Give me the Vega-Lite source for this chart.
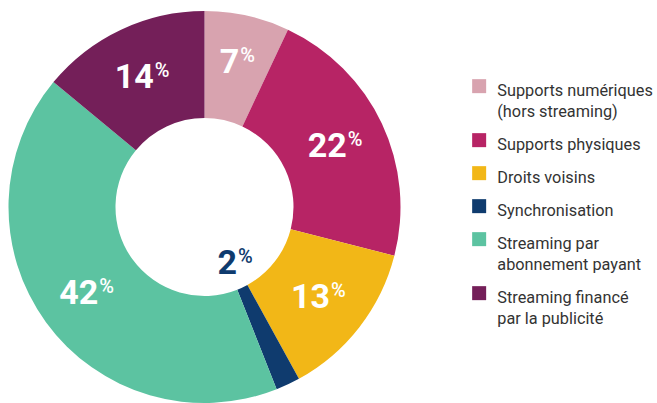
{
  "$schema": "https://vega.github.io/schema/vega-lite/v6.json",
  "width": 409,
  "height": 414,
  "autosize": "none",
  "padding": {"left": 0, "top": 0, "right": 248, "bottom": 0},
  "background": "white",
  "config": {"view": {"stroke": null}, "font": "Roboto"},
  "data": {
    "values": [
      {"categorie": "Supports numériques|(hors streaming)", "valeur": 7, "ordre": 1},
      {"categorie": "Supports physiques", "valeur": 22, "ordre": 2},
      {"categorie": "Droits voisins", "valeur": 13, "ordre": 3},
      {"categorie": "Synchronisation", "valeur": 2, "ordre": 4},
      {"categorie": "Streaming par|abonnement payant", "valeur": 42, "ordre": 5},
      {"categorie": "Streaming financé|par la publicité", "valeur": 14, "ordre": 6}
    ]
  },
  "encoding": {
    "theta": {"field": "valeur", "type": "quantitative", "stack": true},
    "order": {"field": "ordre", "type": "quantitative"}
  },
  "layer": [
    {
      "mark": {"type": "arc", "outerRadius": 196, "innerRadius": 89},
      "encoding": {
        "color": {
          "field": "categorie",
          "type": "nominal",
          "sort": null,
          "scale": {
            "domain": ["Supports numériques|(hors streaming)", "Supports physiques", "Droits voisins", "Synchronisation", "Streaming par|abonnement payant", "Streaming financé|par la publicité"],
            "range": ["#D8A3AF", "#B72465", "#F2B717", "#0F3B6E", "#5CC3A1", "#741F59"]
          },
          "legend": {
            "title": null,
            "orient": "none",
            "legendX": 471,
            "legendY": 78,
            "padding": 0,
            "symbolType": "square",
            "symbolSize": 196,
            "symbolStrokeWidth": 0,
            "labelFont": "Roboto",
            "labelFontSize": 16.3,
            "labelColor": "#333333",
            "labelOffset": 10,
            "labelLimit": 300,
            "labelBaseline": "top",
            "rowPadding": 11,
            "labelExpr": "split(datum.label, '|')",
            "encode": {"labels": {"update": {"lineHeight": {"value": 21}, "dy": {"value": -3}}}}
          }
        }
      }
    },
    {
      "mark": {"type": "text", "radius": 145, "align": "right", "baseline": "alphabetic", "dx": 11, "dy": 12, "fontSize": 34, "fontWeight": "bold", "color": "white"},
      "encoding": {
        "text": {"condition": {"test": "datum.valeur >= 10", "field": "valeur", "type": "nominal"}, "value": ""}
      }
    },
    {
      "mark": {"type": "text", "radius": 145, "align": "left", "baseline": "alphabetic", "dx": 12, "dy": 1, "fontSize": 20, "fontWeight": 500, "color": "white"},
      "encoding": {
        "text": {"condition": {"test": "datum.valeur >= 10", "value": "%"}, "value": ""}
      }
    },
    {
      "mark": {"type": "text", "radius": 150, "align": "right", "baseline": "alphabetic", "dx": 2, "dy": 12, "fontSize": 34, "fontWeight": "bold", "color": "white"},
      "encoding": {
        "text": {"condition": {"test": "datum.valeur >= 5 && datum.valeur < 10", "field": "valeur", "type": "nominal"}, "value": ""}
      }
    },
    {
      "mark": {"type": "text", "radius": 150, "align": "left", "baseline": "alphabetic", "dx": 3, "dy": 1, "fontSize": 20, "fontWeight": 500, "color": "white"},
      "encoding": {
        "text": {"condition": {"test": "datum.valeur >= 5 && datum.valeur < 10", "value": "%"}, "value": ""}
      }
    },
    {
      "mark": {"type": "text", "radius": 62, "align": "right", "baseline": "alphabetic", "dx": 6, "dy": 11, "fontSize": 34, "fontWeight": "bold", "color": "#0F3B6E"},
      "encoding": {
        "text": {"condition": {"test": "datum.valeur < 5", "field": "valeur", "type": "nominal"}, "value": ""}
      }
    },
    {
      "mark": {"type": "text", "radius": 62, "align": "left", "baseline": "alphabetic", "dx": 7, "dy": 0, "fontSize": 20, "fontWeight": 500, "color": "#0F3B6E"},
      "encoding": {
        "text": {"condition": {"test": "datum.valeur < 5", "value": "%"}, "value": ""}
      }
    }
  ]
}
